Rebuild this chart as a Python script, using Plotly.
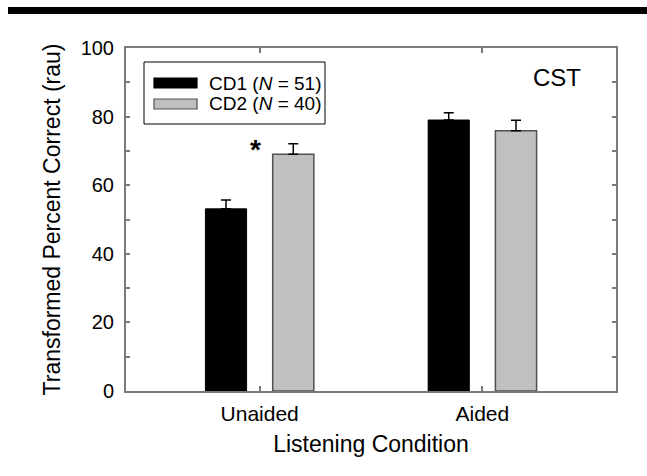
import plotly.graph_objects as go

# ---- data ----
conditions = ["Unaided", "Aided"]
series_names = ["CD1 (<i>N</i> = 51)", "CD2 (<i>N</i> = 40)"]
cd1_means = [53.1, 79.0]
cd1_err = [2.6, 2.1]
cd2_means = [69.0, 75.9]
cd2_err = [3.1, 3.0]
y_tickvals = [0, 10, 20, 30, 40, 50, 60, 70, 80, 90, 100]
y_ticktext = ["0", "", "20", "", "40", "", "60", "", "80", "", "100"]
sig_condition = "Unaided"
sig_y = 71
panel_label = "CST"

FONT = "Liberation Sans, Arial, sans-serif"
W, H = 647, 476
ML, MR, MT, MB = 126, 31, 48, 85
PW, PH = W - ML - MR, H - MT - MB


def px_x(px):
    return (px - ML) / PW


def px_y(py):
    return (H - MB - py) / PH


fig = go.Figure()
fig.add_trace(go.Bar(
    x=conditions, y=cd1_means, name="CD1",
    marker=dict(color="black", line=dict(color="black", width=1)),
    error_y=dict(type="data", symmetric=False, array=cd1_err,
                 arrayminus=[0] * len(cd1_err), color="black",
                 thickness=1.5, width=5),
    showlegend=False,
))
fig.add_trace(go.Bar(
    x=conditions, y=cd2_means, name="CD2",
    marker=dict(color="#c0c0c0", line=dict(color="#505050", width=1.5)),
    error_y=dict(type="data", symmetric=False, array=cd2_err,
                 arrayminus=[0] * len(cd2_err), color="black",
                 thickness=1.5, width=5),
    showlegend=False,
))

axis_col = "#7a7a7a"
fig.update_layout(
    width=W, height=H,
    margin=dict(l=ML, r=MR, t=MT, b=MB),
    paper_bgcolor="white", plot_bgcolor="white",
    barmode="group", bargap=0.396, bargroupgap=0.388,
    font=dict(family=FONT, color="black"),
    xaxis=dict(
        type="category", range=[-0.6, 1.6],
        showline=True, linecolor=axis_col, linewidth=2, mirror="ticks",
        ticks="inside", ticklen=5, tickwidth=1.5, tickcolor=axis_col,
        tickfont=dict(size=21, family=FONT, color="black"),
        ticklabelstandoff=3,
        showgrid=False, zeroline=False,
        title=dict(text="Listening Condition", font=dict(size=23, family=FONT),
                   standoff=12),
    ),
    yaxis=dict(
        range=[0, 100],
        tickvals=y_tickvals, ticktext=y_ticktext,
        showline=True, linecolor=axis_col, linewidth=2, mirror="ticks",
        ticks="inside", ticklen=4, tickwidth=1.5, tickcolor=axis_col,
        tickfont=dict(size=20, family=FONT, color="black"),
        ticklabelstandoff=6,
        showgrid=False, zeroline=False,
        title=dict(text="Transformed Percent Correct (rau)",
                   font=dict(size=23, family=FONT), standoff=14),
    ),
)

shapes = []
# top black rule
shapes.append(dict(type="rect", xref="paper", yref="paper",
                   x0=px_x(8), x1=px_x(647), y0=px_y(14), y1=px_y(7),
                   fillcolor="black", line=dict(width=0), layer="above"))
# legend box
shapes.append(dict(type="rect", xref="paper", yref="paper",
                   x0=px_x(144), x1=px_x(325), y0=px_y(124), y1=px_y(62),
                   fillcolor="white", line=dict(color="black", width=1)))
sw_colors = [("black", "black"), ("#c0c0c0", "#505050")]
row_y = [(78, 88), (99, 109)]
annotations = []
for (fc, lc), (ya, yb), name in zip(sw_colors, row_y, series_names):
    shapes.append(dict(type="rect", xref="paper", yref="paper",
                       x0=px_x(154), x1=px_x(197), y0=px_y(yb), y1=px_y(ya),
                       fillcolor=fc, line=dict(color=lc, width=1.2)))
    annotations.append(dict(xref="paper", yref="paper", x=px_x(207),
                            y=px_y((ya + yb) / 2), text=name, showarrow=False,
                            xanchor="left", yanchor="middle",
                            font=dict(size=19, family=FONT, color="black")))

annotations.append(dict(xref="paper", yref="paper", x=px_x(557), y=px_y(78),
                        text=panel_label, showarrow=False,
                        xanchor="center", yanchor="middle",
                        font=dict(size=24, family=FONT, color="black")))
annotations.append(dict(x=sig_condition, y=sig_y, xref="x", yref="y",
                        text="<b>*</b>", showarrow=False, xshift=-4, yshift=-2,
                        xanchor="center", yanchor="middle",
                        font=dict(size=28, family=FONT, color="black")))

fig.update_layout(shapes=shapes, annotations=annotations)
fig.write_html("out.html")
